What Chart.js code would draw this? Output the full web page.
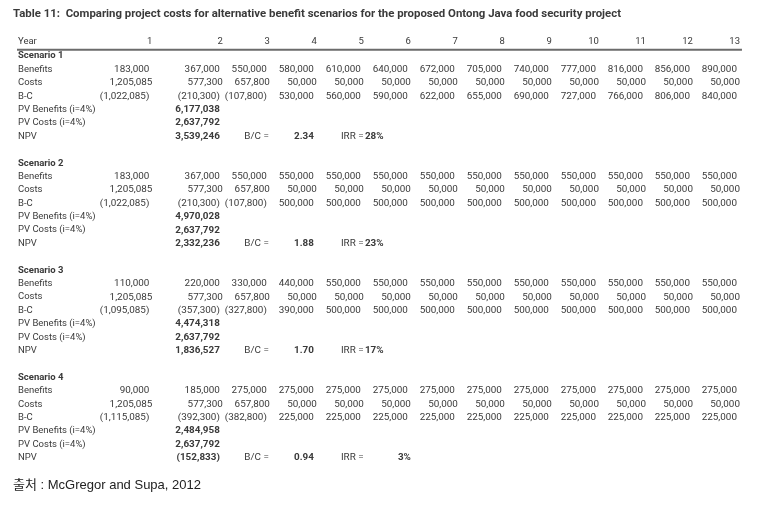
<!DOCTYPE html>
<html>
<head>
<meta charset="utf-8">
<script src="https://cdn.jsdelivr.net/npm/chart.js@4.4.1/dist/chart.umd.min.js"></script>
<style>
  html, body { margin: 0; background: #fff; }
  canvas { display: block; }
</style>
</head>
<body>
<canvas id="c" width="773" height="507"></canvas>
<script>
const TITLE = "Table 11:  Comparing project costs for alternative benefit scenarios for the proposed Ontong Java food security project";
const SOURCE = "출처 : McGregor and Supa, 2012";

const years = [1, 2, 3, 4, 5, 6, 7, 8, 9, 10, 11, 12, 13];
const scenarios = ["Scenario 1", "Scenario 2", "Scenario 3", "Scenario 4"];
const rowLabels = ["Benefits", "Costs", "B-C", "PV Benefits (i=4%)", "PV Costs (i=4%)", "NPV"];

const benefits1 = [183000, 367000, 550000, 580000, 610000, 640000, 672000, 705000, 740000, 777000, 816000, 856000, 890000];
const benefits2 = [183000, 367000, 550000, 550000, 550000, 550000, 550000, 550000, 550000, 550000, 550000, 550000, 550000];
const benefits3 = [110000, 220000, 330000, 440000, 550000, 550000, 550000, 550000, 550000, 550000, 550000, 550000, 550000];
const benefits4 = [90000, 185000, 275000, 275000, 275000, 275000, 275000, 275000, 275000, 275000, 275000, 275000, 275000];

const costs = [1205085, 577300, 657800, 50000, 50000, 50000, 50000, 50000, 50000, 50000, 50000, 50000, 50000];

const net1 = [-1022085, -210300, -107800, 530000, 560000, 590000, 622000, 655000, 690000, 727000, 766000, 806000, 840000];
const net2 = [-1022085, -210300, -107800, 500000, 500000, 500000, 500000, 500000, 500000, 500000, 500000, 500000, 500000];
const net3 = [-1095085, -357300, -327800, 390000, 500000, 500000, 500000, 500000, 500000, 500000, 500000, 500000, 500000];
const net4 = [-1115085, -392300, -382800, 225000, 225000, 225000, 225000, 225000, 225000, 225000, 225000, 225000, 225000];

const pvBenefits = [6177038, 4970028, 4474318, 2484958];
const pvCosts = [2637792, 2637792, 2637792, 2637792];
const npv = [3539246, 2332236, 1836527, -152833];
const bcRatio = ["2.34", "1.88", "1.70", "0.94"];
const irr = ["28%", "23%", "17%", "3%"];

const benefits = [benefits1, benefits2, benefits3, benefits4];
const nets = [net1, net2, net3, net4];

/* ---------- look ---------- */
const INK = "#3a3a3a";
const FONT = "Roboto, 'Liberation Sans', sans-serif";
const SIZE = 9.5;         // Beschriftungen
const NUM = 9.9;          // Zahlen
const BLOCK = 8;          // 7 Zeilen je Szenario + Leerzeile
const HEAD_ROW = -1.05;   // "Year"-Kopfzeile
const RULE_ROW = -0.47;   // Linie unter dem Kopf

const colX = (yr) => (yr === 1 ? 0.5 : yr); // erste Jahresspalte steht weiter links
const fmt = (n) => (n < 0 ? "(" + Math.abs(n).toLocaleString("en-US") + ")" : n.toLocaleString("en-US"));

/* ---------- datasets: one per table row ---------- */
const datasets = [];
function addRow(values, row, opts = {}) {
  datasets.push({
    data: values.map((v, i) => ({ x: colX(years[i]), y: row, t: fmt(v) })),
    dx: opts.dx || 0,
    bold: !!opts.bold,
    pointRadius: 0,
  });
}
function addCells(cells, opts = {}) {
  datasets.push({ data: cells, dx: opts.dx || 0, bold: !!opts.bold, align: opts.align, pointRadius: 0 });
}

scenarios.forEach((name, s) => {
  const base = s * BLOCK;
  addRow(benefits[s], base + 1);
  addRow(costs, base + 2, { dx: 3 });
  addRow(nets[s], base + 3);
  addCells([{ x: 2, y: base + 4, t: fmt(pvBenefits[s]) }], { bold: true });
  addCells([{ x: 2, y: base + 5, t: fmt(pvCosts[s]) }], { bold: true });
  addCells([{ x: 2, y: base + 6, t: fmt(npv[s]) }], { bold: true });
  addCells([{ x: 3, y: base + 6, t: "B/C =" }], { dx: 2 });
  addCells([{ x: 4, y: base + 6, t: bcRatio[s] }], { bold: true });
  addCells([{ x: 5, y: base + 6, t: "IRR =" }], { align: "left", dx: -20 });
  if (s < 3) addCells([{ x: 5, y: base + 6, t: irr[s] }], { bold: true, align: "left", dx: 4 });
  else addCells([{ x: 6, y: base + 6, t: irr[s] }], { bold: true, dx: 3 });
});

/* ---------- text renderer on top of the scales ---------- */
const tableText = {
  id: "tableText",
  afterDatasetsDraw(chart) {
    const { ctx, chartArea, scales: { x, y } } = chart;
    const labelX = chartArea.left + 5;
    ctx.save();
    ctx.fillStyle = INK;
    ctx.textBaseline = "middle";

    // Kopfzeile
    const yHead = y.getPixelForValue(HEAD_ROW);
    ctx.font = `${SIZE}px ${FONT}`;
    ctx.textAlign = "left";
    ctx.fillText("Year", labelX, yHead);
    ctx.textAlign = "right";
    years.forEach((yr) => ctx.fillText(String(yr), x.getPixelForValue(colX(yr)) + 3, yHead));

    const yRule = y.getPixelForValue(RULE_ROW);
    ctx.strokeStyle = "#6b6b6b";
    ctx.lineWidth = 2;
    ctx.beginPath();
    ctx.moveTo(labelX - 1, yRule);
    ctx.lineTo(x.getPixelForValue(colX(13)) + 5, yRule);
    ctx.stroke();

    // Zeilenbeschriftungen
    ctx.textAlign = "left";
    scenarios.forEach((name, s) => {
      const base = s * BLOCK;
      ctx.font = `bold ${SIZE}px ${FONT}`;
      ctx.fillText(name, labelX, y.getPixelForValue(base));
      ctx.font = `${SIZE}px ${FONT}`;
      rowLabels.forEach((lab, r) => ctx.fillText(lab, labelX, y.getPixelForValue(base + 1 + r)));
    });

    // Zellen
    chart.data.datasets.forEach((ds, di) => {
      const meta = chart.getDatasetMeta(di);
      ctx.font = `${ds.bold ? "bold " : ""}${NUM}px ${FONT}`;
      ctx.textAlign = ds.align || "right";
      meta.data.forEach((pt, i) => ctx.fillText(ds.data[i].t, pt.x + ds.dx, pt.y));
    });
    ctx.restore();
  },
};

new Chart(document.getElementById("c"), {
  type: "scatter",
  data: { datasets },
  options: {
    responsive: false,
    animation: false,
    events: [],
    layout: { padding: { left: 13, right: 13, top: 0, bottom: 0 } },
    scales: {
      x: { type: "linear", min: -2.4, max: 13.49, display: false },
      y: { type: "linear", min: -2, max: 31, reverse: true, display: false },
    },
    plugins: {
      legend: { display: false },
      tooltip: { enabled: false },
      title: {
        display: true,
        text: TITLE,
        align: "start",
        color: INK,
        font: { family: FONT, size: 11.4, weight: "bold" },
        padding: { top: 7.5, bottom: 8 },
      },
      subtitle: {
        display: true,
        text: SOURCE,
        position: "bottom",
        align: "start",
        color: "#222",
        font: { family: "'Liberation Sans', 'Noto Sans CJK KR', sans-serif", size: 13, weight: "normal" },
        padding: { top: 6, bottom: 14.2 },
      },
    },
  },
  plugins: [tableText],
});
</script>
</body>
</html>
